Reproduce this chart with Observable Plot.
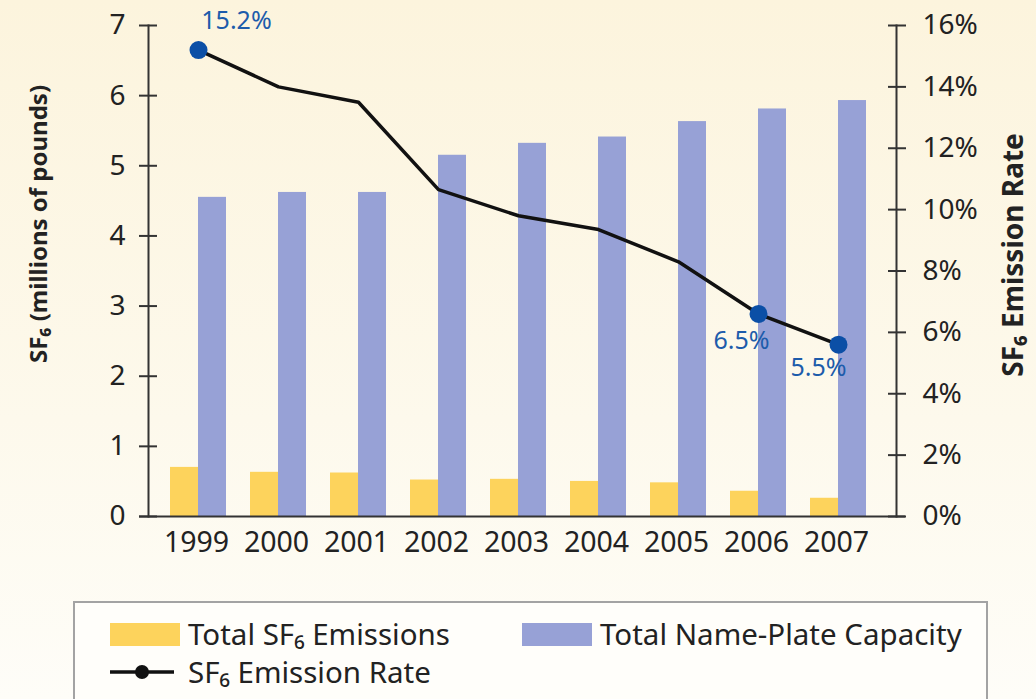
<!DOCTYPE html>
<html>
<head>
<meta charset="utf-8">
<script src="https://cdn.jsdelivr.net/npm/d3@7"></script>
<script src="https://cdn.jsdelivr.net/npm/@observablehq/plot@0.6"></script>
<style>
  html, body { margin: 0; padding: 0; }
  body {
    width: 1036px; height: 699px; overflow: hidden; position: relative;
    background: linear-gradient(to bottom, #fcf4dd 0%, #fdf9ec 60%, #fefdf8 100%);
    font-family: "Noto Sans", sans-serif;
  }
  #chart { position: absolute; left: 0; top: 0; }
  #legend {
    position: absolute; left: 73px; top: 601px; width: 911px; height: 120px;
    border: 2px solid #a3a3a3; background: #fffefa; box-sizing: content-box;
    font-family: "Noto Sans", sans-serif; font-size: 29.5px; color: #222;
  }
  .item { position: absolute; display: flex; align-items: center; height: 32px; line-height: 32px; }
  .sw { width: 70px; height: 23px; margin-right: 8px; }
  .lsw { width: 70px; height: 20px; margin-right: 8px; }
</style>
</head>
<body>
<div id="chart"></div>
<div id="legend"></div>
<script>
// ---- data ----
const years = ["1999", "2000", "2001", "2002", "2003", "2004", "2005", "2006", "2007"];
const emissions = [0.70, 0.63, 0.62, 0.52, 0.53, 0.50, 0.48, 0.36, 0.26];   // millions of pounds
const capacity  = [4.55, 4.62, 4.62, 5.15, 5.32, 5.41, 5.63, 5.81, 5.93];   // millions of pounds
const rate      = [15.2, 14.0, 13.5, 10.65, 9.8, 9.35, 8.3, 6.6, 5.6];      // percent
const labelledYears = ["1999", "2006", "2007"];
const labelTexts = ["15.2%", "6.5%", "5.5%"];
const leftTicks = [0, 1, 2, 3, 4, 5, 6, 7];
const rightTicks = [0, 2, 4, 6, 8, 10, 12, 14, 16];
const seriesNames = ["Total SF\u2086 Emissions", "Total Name-Plate Capacity", "SF\u2086 Emission Rate"];
const yLabelLeft = "SF\u2086 (millions of pounds)";
const yLabelRight = "SF\u2086 Emission Rate";

const colors = { emissions: "#fdd35c", capacity: "#97a1d6", line: "#111111", dot: "#0b4fa6", label: "#1d5cab", axis: "#333333", text: "#222222" };

// right axis 0–16% mapped onto left axis 0–7
const k = 7 / 16;
const rows = years.map((y, i) => ({ year: y, emissions: emissions[i], capacity: capacity[i], rate: rate[i], rateY: rate[i] * k }));
const labelled = labelledYears.map((y, j) => {
  const r = rows.find(d => d.year === y);
  return { ...r, text: labelTexts[j] };
});

const font = "Noto Sans, sans-serif";

const chart = Plot.plot({
  width: 1036,
  height: 580,
  marginLeft: 148,
  marginRight: 140,
  marginTop: 25,
  marginBottom: 64,
  style: { background: "transparent", fontFamily: font, fontSize: "28px", color: colors.text, overflow: "visible" },
  x: { type: "band", domain: years, paddingInner: 0.304, paddingOuter: 0.297, align: 0.42, axis: null },
  y: { domain: [0, 7], axis: null },
  marks: [
    Plot.barY(rows, { x: "year", y: "emissions", fill: colors.emissions, insetRight: 28 }),
    Plot.barY(rows, { x: "year", y: "capacity", fill: colors.capacity, insetLeft: 28 }),
    Plot.frame({ anchor: "left", stroke: colors.axis, strokeWidth: 2 }),
    Plot.frame({ anchor: "right", stroke: colors.axis, strokeWidth: 2 }),
    Plot.ruleY([0], { stroke: colors.axis, strokeWidth: 2, insetLeft: -9, insetRight: -9 }),
    Plot.axisX({ tickSize: 0, tickPadding: 15, dx: -2, fontSize: 28.5, fill: colors.text, label: null }),
    Plot.axisY({ anchor: "left", ticks: leftTicks, tickFormat: d => String(d), tickSize: 18, dx: 9, tickPadding: 14, stroke: colors.axis, strokeWidth: 2, fontSize: 28, fill: colors.text, label: null }),
    Plot.axisY({ anchor: "right", ticks: rightTicks.map(v => v * k), tickFormat: d => Math.round(d / k) + "%", tickSize: 18, dx: -9, tickPadding: 17, stroke: colors.axis, strokeWidth: 2, fontSize: 28, fill: colors.text, label: null }),
    Plot.text([yLabelLeft], { frameAnchor: "left", textAnchor: "middle", dx: -109, dy: -47, rotate: -90, fontSize: 24, fontWeight: "bold", fill: colors.text }),
    Plot.text([yLabelRight], { frameAnchor: "right", textAnchor: "middle", dx: 118, dy: -16, rotate: -90, fontSize: 28, fontWeight: "bold", fill: colors.text }),
    Plot.line(rows, { x: "year", y: "rateY", stroke: colors.line, strokeWidth: 3.5, strokeLinejoin: "round" }),
    Plot.dot(labelled, { x: "year", y: "rateY", r: 9, fill: colors.dot, stroke: "none" }),
    Plot.text(labelled.filter(d => d.year === "1999"), { x: "year", y: "rateY", text: "text", dx: 38, dy: -29, fontSize: 25, fill: colors.label }),
    Plot.text(labelled.filter(d => d.year === "2006"), { x: "year", y: "rateY", text: "text", dx: -17, dy: 27, fontSize: 25, fill: colors.label }),
    Plot.text(labelled.filter(d => d.year === "2007"), { x: "year", y: "rateY", text: "text", dx: -20, dy: 23, fontSize: 25, fill: colors.label })
  ]
});
document.getElementById("chart").appendChild(chart);

// ---- legend ----
const legend = document.getElementById("legend");
function addItem(left, top, swatchHtml, label) {
  const el = document.createElement("div");
  el.className = "item";
  el.style.left = left + "px";
  el.style.top = top + "px";
  el.innerHTML = swatchHtml + "<span>" + label + "</span>";
  legend.appendChild(el);
}
addItem(35, 15, `<div class="sw" style="background:${colors.emissions}"></div>`, seriesNames[0]);
addItem(447, 15, `<div class="sw" style="background:${colors.capacity}"></div>`, seriesNames[1]);
addItem(35, 53, `<svg class="lsw" viewBox="0 0 70 20"><line x1="0" y1="10" x2="64" y2="10" stroke="${colors.line}" stroke-width="3.5"/><circle cx="32" cy="10" r="7" fill="${colors.line}"/></svg>`, seriesNames[2]);
</script>
</body>
</html>
